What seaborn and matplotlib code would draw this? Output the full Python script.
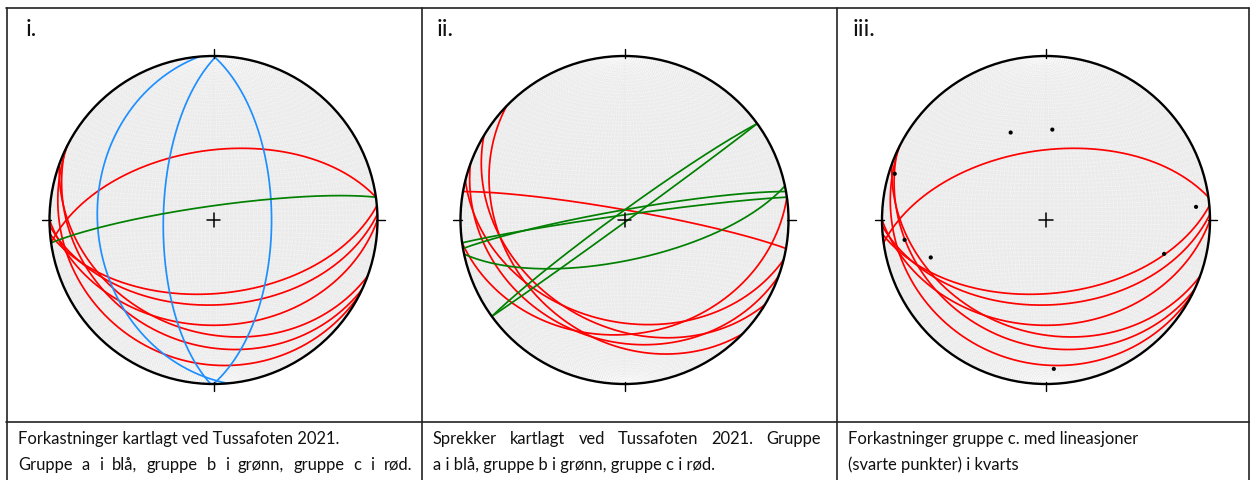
import numpy as np
import pandas as pd
import matplotlib
matplotlib.use("Agg")
import matplotlib.pyplot as plt
from matplotlib.lines import Line2D
from matplotlib.patches import Circle
from matplotlib.collections import LineCollection
import seaborn as sns

# ---------------------------------------------------------------
# Data: planes as (dip direction, dip), lineations as (trend, plunge)
# ---------------------------------------------------------------
# Panel i - faults
faults_a_dd = [265, 271, 90]
faults_a_dip = [30, 65, 61]
faults_b_dd = [352]
faults_b_dip = [83]
faults_c_dd = [352, 175, 178, 180, 200, 205, 207]
faults_c_dip = [55, 53, 47, 36, 32, 25, 14]

# Panel ii - fractures
fractures_b_dd = [324, 144, 350, 352, 168]
fractures_b_dip = [86, 89, 85, 87.5, 70]
fractures_c_dd = [10, 224, 211, 200, 194, 172]
fractures_c_dip = [85, 30, 36, 27, 38, 31]

# Panel iii - group c faults with lineations in quartz
lin_trend = [338, 4, 287, 85, 262, 252, 106, 177]
lin_plunge = [42, 44, 4, 9, 14, 27, 26, 10]

panel_labels = ["i.", "ii.", "iii."]
# caption lines; True marks a line set justified across the cell
captions = [
    [("Forkastninger kartlagt ved Tussafoten 2021.", False),
     ("Gruppe a i blå, gruppe b i grønn, gruppe c i rød.", True)],
    [("Sprekker kartlagt ved Tussafoten 2021. Gruppe", True),
     ("a i blå, gruppe b i grønn, gruppe c i rød.", False)],
    [("Forkastninger gruppe c. med lineasjoner", False),
     ("(svarte punkter) i kvarts", False)],
]

BLUE = "#1e8fff"
GREEN = "#008000"
RED = "#ff0000"

W, H = 1251, 480


def project(e, n, d):
    """Lower-hemisphere equal-area (Schmidt) projection, unit primitive."""
    k = 1.0 / np.sqrt(1.0 + d)
    return e * k, n * k


def great_circle(dd, dip, n=361):
    s = np.radians(dd - 90)
    D = np.radians(dd)
    dp = np.radians(dip)
    a = np.array([np.sin(s), np.cos(s), 0.0])
    b = np.array([np.cos(dp) * np.sin(D), np.cos(dp) * np.cos(D), np.sin(dp)])
    th = np.linspace(0, np.pi, n)
    v = np.outer(np.cos(th), a) + np.outer(np.sin(th), b)
    return project(v[:, 0], v[:, 1], v[:, 2])


def planes_frame(dds, dips):
    rows = []
    for i, (dd, dp) in enumerate(zip(dds, dips)):
        x, y = great_circle(dd, dp)
        rows.append(pd.DataFrame({"x": x, "y": y, "plane": i}))
    return pd.concat(rows, ignore_index=True)


def lines_frame(trends, plunges):
    t = np.radians(trends)
    p = np.radians(plunges)
    x, y = project(np.cos(p) * np.sin(t), np.cos(p) * np.cos(t), np.sin(p))
    return pd.DataFrame({"x": x, "y": y})


def net_segments():
    segs = []
    th = np.linspace(0, np.pi, 181)
    # meridians (great circles striking N-S)
    for dip in range(2, 90, 2):
        for dd in (90, 270):
            x, y = great_circle(dd, dip, 181)
            segs.append(np.column_stack([x, y]))
    # small circles about the N-S axis
    for alpha in range(2, 180, 2):
        al = np.radians(alpha)
        e = np.sin(al) * np.cos(th)
        n = np.full_like(th, np.cos(al))
        d = np.sin(al) * np.sin(th)
        x, y = project(e, n, d)
        segs.append(np.column_stack([x, y]))
    return segs


def draw_planes(ax, dds, dips, color):
    df = planes_frame(dds, dips)
    sns.lineplot(data=df, x="x", y="y", units="plane", estimator=None, sort=False,
                 color=color, lw=1.25, ax=ax, legend=False, zorder=3)


sns.set_theme(style="white")
plt.rcParams["font.family"] = ["Lato", "DejaVu Sans"]

fig = plt.figure(figsize=(W / 100, H / 100), dpi=100)
fig.patch.set_facecolor("white")

R = 164.0
half = 182.0
centers = [(213.5, 220.0), (624.5, 220.0), (1046.0, 220.0)]
NET = net_segments()

axes = []
for cx, cy in centers:
    ax = fig.add_axes([(cx - half) / W, (H - cy - half) / H, 2 * half / W, 2 * half / H])
    bg = Circle((0, 0), 1, facecolor="#ebebeb", edgecolor="none", zorder=0)
    ax.add_patch(bg)
    lc = LineCollection(NET, colors="white", linewidths=0.6, linestyles=(0, (1, 1.6)),
                        alpha=0.75, zorder=1)
    ax.add_collection(lc)
    lc.set_clip_path(bg)
    ax.add_patch(Circle((0, 0), 1, facecolor="none", edgecolor="black", lw=1.7, zorder=5))
    # N, E, S, W ticks and centre cross
    for ang in (0, 90, 180, 270):
        a = np.radians(ang)
        ax.plot([0.99 * np.sin(a), 1.045 * np.sin(a)], [0.99 * np.cos(a), 1.045 * np.cos(a)],
                color="black", lw=1.0, zorder=5)
    c = 0.04
    ax.plot([-c, c], [0, 0], color="black", lw=1.1, zorder=6)
    ax.plot([0, 0], [-c, c], color="black", lw=1.1, zorder=6)
    axes.append(ax)

# Panel i
draw_planes(axes[0], faults_c_dd, faults_c_dip, RED)
draw_planes(axes[0], faults_a_dd, faults_a_dip, BLUE)
draw_planes(axes[0], faults_b_dd, faults_b_dip, GREEN)

# Panel ii
draw_planes(axes[1], fractures_c_dd, fractures_c_dip, RED)
draw_planes(axes[1], fractures_b_dd, fractures_b_dip, GREEN)

# Panel iii
draw_planes(axes[2], faults_c_dd, faults_c_dip, RED)
sns.scatterplot(data=lines_frame(lin_trend, lin_plunge), x="x", y="y", ax=axes[2],
                color="black", s=9, edgecolor="none", zorder=7, legend=False)

for ax in axes:
    L = half / R
    ax.set_xlim(-L, L)
    ax.set_ylim(-L, L)
    ax.set_aspect("equal")
    ax.axis("off")


# Table frame
def hline(y, x0, x1):
    fig.add_artist(Line2D([x0 / W, x1 / W], [1 - y / H, 1 - y / H], color="#222222", lw=1.2))


def vline(x, y0, y1):
    fig.add_artist(Line2D([x / W, x / W], [1 - y0 / H, 1 - y1 / H], color="#222222", lw=1.2))


hline(8, 6, 1249)
hline(421.5, 6, 1249)
for x in (6.5, 421.5, 836.5, 1248.5):
    vline(x, 8, 480)

renderer = fig.canvas.get_renderer()
CAP_SIZE = 11.9


def put_line(x0, y, text, justify_to=None):
    if justify_to is None:
        fig.text(x0 / W, 1 - y / H, text, fontsize=CAP_SIZE, ha="left", va="center",
                 color="#111111")
        return
    words = text.split(" ")
    arts = [fig.text(0, 1 - y / H, w, fontsize=CAP_SIZE, ha="left", va="center",
                     color="#111111") for w in words]
    widths = [a.get_window_extent(renderer).width for a in arts]
    gap = (justify_to - x0 - sum(widths)) / (len(words) - 1)
    x = x0
    for a, w in zip(arts, widths):
        a.set_x(x / W)
        x += w + gap


label_x = [26, 437, 853]
caption_x = [18, 433, 848]
cell_right = [412, 821, 1236]
for lx, cx_, cr, lab, cap in zip(label_x, caption_x, cell_right, panel_labels, captions):
    fig.text(lx / W, 1 - 30 / H, lab, fontsize=17, ha="left", va="center", color="#111111")
    for k, (ln, just) in enumerate(cap):
        put_line(cx_, 439 + 26 * k, ln, cr if just else None)

fig.savefig("out.png", dpi=100, facecolor="white")
